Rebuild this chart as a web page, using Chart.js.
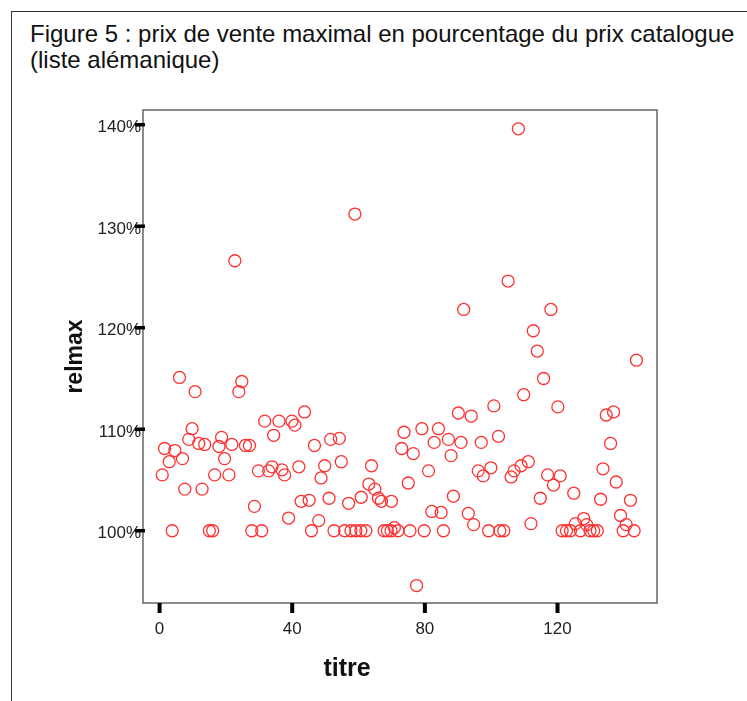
<!DOCTYPE html>
<html><head><meta charset="utf-8">
<script src="https://cdn.jsdelivr.net/npm/chart.js@4.4.0/dist/chart.umd.min.js"></script>
<style>
html,body{margin:0;padding:0;background:#fff;width:747px;height:701px;overflow:hidden;}
#frame{position:absolute;left:11px;top:11px;width:800px;height:760px;border-left:1px solid #333;border-top:1px solid #333;}
#title{position:absolute;left:30px;top:21px;font-family:"Liberation Sans",Arial,sans-serif;font-size:24px;line-height:26px;color:#111;white-space:nowrap;}
#xtitle{position:absolute;left:347px;top:653px;transform:translateX(-50%);font:bold 25px "Liberation Sans",Arial,sans-serif;color:#111;}
canvas{position:absolute;left:0;top:0;}
</style></head><body>
<div id="frame"></div>
<div id="title">Figure 5 : prix de vente maximal en pourcentage du prix catalogue<br>(liste alémanique)</div>
<canvas id="c" width="747" height="701"></canvas>
<div id="xtitle">titre</div>
<script>
const titre = [0.8,1.5,2.9,3.8,4.6,6.0,6.9,7.6,8.8,9.8,10.7,11.8,12.8,13.6,15.0,16.0,16.6,17.9,18.7,19.6,20.9,21.8,22.7,23.9,24.8,25.9,27.1,27.8,28.6,29.8,30.8,31.7,32.9,33.9,34.4,
36.0,36.9,37.7,38.9,39.9,40.8,42.0,42.7,43.7,45.1,45.8,46.7,48.0,48.7,49.8,51.1,51.6,52.6,54.2,54.8,55.8,57.0,57.7,58.9,59.2,60.7,60.8,62.2,63.1,63.9,64.9,66.0,66.9,67.7,68.7,69.8,69.9,70.8,71.9,
73.0,73.7,75.0,75.5,76.5,77.5,79.1,79.8,81.1,82.1,82.8,84.1,84.9,85.6,87.1,87.9,88.6,90.1,90.9,91.7,93.1,94.0,94.7,96.1,97.0,97.6,99.2,99.9,100.8,102.2,102.6,103.8,105.1,106.0,106.9,108.2,109.0,109.8,
111.2,112.0,112.7,113.9,114.8,115.8,117.0,118.0,118.8,120.1,120.8,121.4,122.7,123.9,124.9,125.4,126.9,127.9,128.8,129.8,130.9,132.0,133.0,133.7,134.7,136.0,136.9,137.7,139.0,139.8,140.7,142.0,143.1,143.8];
const relmax = [105.5,108.1,106.8,100,107.9,115.1,107.1,104.1,109.0,110.05,113.7,108.6,104.1,108.5,100,100,105.5,108.3,109.2,107.1,105.5,108.5,126.6,113.7,114.7,108.4,108.4,100,102.4,105.9,100,110.8,105.9,106.3,109.4,
110.8,106.0,105.5,101.25,110.8,110.4,106.3,102.9,111.7,103.0,100,108.4,101.0,105.2,106.4,103.2,109.0,100,109.1,106.8,100,102.7,100,131.2,100,100,103.3,100,104.6,106.4,104.1,103.2,102.9,100,100,100,102.9,100.3,100,
108.1,109.7,104.7,100,107.6,94.6,110.05,100,105.9,101.9,108.7,110.05,101.8,100,109.0,107.4,103.4,111.6,108.7,121.8,101.7,111.3,100.6,105.9,108.7,105.4,100,106.2,112.3,109.3,100,100,124.6,105.3,105.9,139.6,106.4,113.4,
106.8,100.7,119.7,117.7,103.2,115.0,105.5,121.8,104.5,112.2,105.4,100,100,100,103.7,100.7,100,101.2,100.6,100,100,100,103.1,106.1,111.4,108.6,111.7,104.8,101.5,100,100.6,103.0,100,116.8];
const xTickValues = [0, 40, 80, 120];
const yTickValues = [100, 110, 120, 130, 140];

const points = titre.map((t, i) => ({x: t, y: relmax[i]}));

const framePlugin = {
  id: 'plotFrame',
  beforeDatasetsDraw(chart) {
    const {ctx, chartArea: a} = chart;
    ctx.save();
    ctx.strokeStyle = '#666';
    ctx.lineWidth = 1.5;
    ctx.strokeRect(a.left, a.top, a.right - a.left, a.bottom - a.top);
    ctx.restore();
  },
  afterDatasetsDraw(chart) {
    const {ctx, chartArea: a, scales: {x, y}} = chart;
    ctx.save();
    ctx.fillStyle = '#000';
    yTickValues.forEach(v => { const py = y.getPixelForValue(v); ctx.fillRect(a.left - 8, py - 1.75, 10, 3.5); });
    xTickValues.forEach(v => { const px = x.getPixelForValue(v); ctx.fillRect(px - 2, a.bottom, 4, 10); });
    ctx.restore();
  }
};

new Chart(document.getElementById('c'), {
  type: 'scatter',
  data: { datasets: [{
    data: points,
    pointStyle: 'circle',
    pointRadius: 6,
    pointBorderWidth: 1.3,
    pointBorderColor: '#ff3030',
    pointBackgroundColor: 'rgba(0,0,0,0)'
  }]},
  options: {
    responsive: false,
    animation: false,
    layout: { padding: { left: 0, top: 110, right: 90, bottom: 0 } },
    plugins: { legend: { display: false }, tooltip: { enabled: false } },
    scales: {
      x: {
        type: 'linear', min: -5, max: 150,
        afterFit: s => { s.height = 98; },
        afterBuildTicks: s => { s.ticks = xTickValues.map(v => ({value: v})); },
        grid: { display: false, drawTicks: false },
        border: { display: false },
        ticks: { padding: 16, color: '#222', font: { family: '"Liberation Sans", Arial, sans-serif', size: 17 } }
      },
      y: {
        type: 'linear', min: 92.88, max: 141.45,
        afterFit: s => { s.width = 143; },
        afterBuildTicks: s => { s.ticks = yTickValues.map(v => ({value: v})); },
        grid: { display: false, drawTicks: false },
        border: { display: false },
        ticks: { padding: 2, labelOffset: 3, color: '#222', font: { family: '"Liberation Sans", Arial, sans-serif', size: 17 }, callback: v => v + '%' },
        title: { display: true, text: 'relmax', color: '#111', padding: { top: 62, bottom: 0 }, font: { family: '"Liberation Sans", Arial, sans-serif', size: 23, weight: 'bold' } }
      }
    }
  },
  plugins: [framePlugin]
});
</script>
</body></html>
